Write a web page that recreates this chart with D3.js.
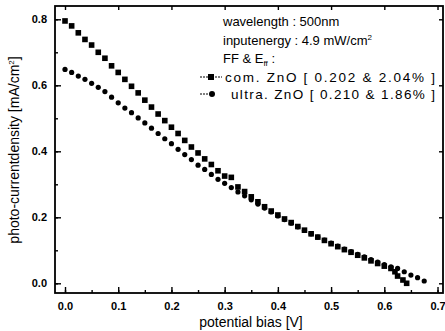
<!DOCTYPE html>
<html><head><meta charset="utf-8">
<script src="https://cdn.jsdelivr.net/npm/d3@7"></script>
<style>
html,body{margin:0;padding:0;background:#fff;}
svg{display:block;font-family:"Liberation Sans",Arial,Helvetica,sans-serif;}
</style></head>
<body>
<script>
// ---- data ----
const comX = [0,0.0125,0.025,0.0375,0.05,0.0625,0.075,0.0875,0.1,0.1125,0.125,0.1375,0.15,0.1625,0.175,0.1875,0.2,0.2125,0.225,0.2375,0.25,0.2625,0.275,0.2875,0.3,0.3125,0.325,0.3375,0.35,0.3625,0.375,0.3875,0.4,0.4125,0.425,0.4375,0.45,0.4625,0.475,0.4875,0.5,0.5125,0.525,0.5375,0.55,0.5625,0.575,0.5875,0.6,0.6125,0.62,0.625,0.635,0.642];
const comY = [0.795,0.780,0.759,0.739,0.722,0.700,0.682,0.659,0.639,0.618,0.597,0.577,0.555,0.534,0.513,0.493,0.473,0.454,0.433,0.413,0.395,0.377,0.360,0.341,0.325,0.321,0.292,0.278,0.262,0.247,0.232,0.219,0.207,0.195,0.184,0.172,0.161,0.150,0.140,0.130,0.120,0.111,0.102,0.094,0.085,0.077,0.068,0.060,0.052,0.045,0.035,0.022,0.010,0.000];
const ultraX = [0,0.0125,0.025,0.0375,0.05,0.0625,0.075,0.0875,0.1,0.1125,0.125,0.1375,0.15,0.1625,0.175,0.1875,0.2,0.2125,0.225,0.2375,0.25,0.2625,0.275,0.2875,0.3,0.3125,0.325,0.3375,0.35,0.3625,0.375,0.3875,0.4,0.4125,0.425,0.4375,0.45,0.4625,0.475,0.4875,0.5,0.5125,0.525,0.5375,0.55,0.5625,0.575,0.5875,0.6,0.6125,0.625,0.6375,0.65,0.6625,0.675];
const ultraY = [0.648,0.639,0.628,0.618,0.606,0.594,0.581,0.564,0.547,0.531,0.517,0.501,0.486,0.470,0.454,0.438,0.423,0.406,0.390,0.375,0.358,0.345,0.330,0.315,0.303,0.290,0.277,0.265,0.253,0.240,0.228,0.216,0.204,0.193,0.182,0.171,0.160,0.150,0.140,0.131,0.122,0.113,0.104,0.096,0.088,0.080,0.072,0.064,0.057,0.050,0.045,0.035,0.025,0.017,0.007];
const xTicks = [0,0.1,0.2,0.3,0.4,0.5,0.6,0.7];
const yTicks = [0,0.2,0.4,0.6,0.8];
const legendInfo = ["wavelength : 500nm"];
const seriesNames = ["com. ZnO [ 0.202 & 2.04% ]","ultra. ZnO [ 0.210 & 1.86% ]"];
const xTitle = "potential bias [V]";

const W = 445, H = 331;
const L = 55, R = 443, T = 6, B = 293;
const svg = d3.select("body").append("svg").attr("width", W).attr("height", H);

const x = d3.scaleLinear().domain([-0.0188, 0.7103]).range([L, R]);
const y = d3.scaleLinear().domain([-0.0294, 0.8403]).range([B, T]);

// frame
svg.append("rect").attr("x", L).attr("y", T).attr("width", R - L).attr("height", B - T)
  .attr("fill", "none").attr("stroke", "#000").attr("stroke-width", 1.8);

// axes with inward ticks
const xMinor = d3.range(0, 0.71, 0.05);
const yMinor = d3.range(0, 0.81, 0.1);
const gx = svg.append("g").attr("transform", `translate(0,${B})`)
  .call(d3.axisTop(x).tickValues(xMinor).tickSize(3).tickFormat(""));
const gx2 = svg.append("g").attr("transform", `translate(0,${B})`)
  .call(d3.axisTop(x).tickValues(xTicks).tickSize(6).tickFormat(""));
const gxl = svg.append("g").attr("transform", `translate(0,${B})`)
  .call(d3.axisBottom(x).tickValues(xTicks).tickSize(0).tickPadding(9).tickFormat(d3.format(".1f")));
const gxt = svg.append("g").attr("transform", `translate(0,${T})`)
  .call(d3.axisBottom(x).tickValues(xTicks).tickSize(4).tickFormat(""));
const gy = svg.append("g").attr("transform", `translate(${L},0)`)
  .call(d3.axisRight(y).tickValues(yMinor).tickSize(3).tickFormat(""));
const gy2 = svg.append("g").attr("transform", `translate(${L},0)`)
  .call(d3.axisRight(y).tickValues(yTicks).tickSize(6).tickFormat(""));
const gyl = svg.append("g").attr("transform", `translate(${L},0)`)
  .call(d3.axisLeft(y).tickValues(yTicks).tickSize(0).tickPadding(8).tickFormat(d3.format(".1f")));
const gyr = svg.append("g").attr("transform", `translate(${R},0)`)
  .call(d3.axisLeft(y).tickValues(yTicks).tickSize(4).tickFormat(""));
[gx,gx2,gxl,gxt,gy,gy2,gyl,gyr].forEach(g => {
  g.select(".domain").remove();
  g.selectAll("line").attr("stroke", "#000").attr("stroke-width", 1.4);
  g.selectAll("text").attr("fill", "#000").attr("font-size", 11).attr("font-weight", "bold")
   .attr("font-family", '"Liberation Sans",Arial,sans-serif');
});

// titles
svg.append("text").attr("x", 251).attr("y", 327).attr("text-anchor", "middle")
  .attr("font-size", 14).text(xTitle);
const yt = svg.append("text").attr("transform", `translate(19,150) rotate(-90)`)
  .attr("text-anchor", "middle").attr("font-size", 14);
yt.append("tspan").text("photo-currentdensity [mA/cm");
yt.append("tspan").attr("font-size", 8).attr("dy", -5).text("2");
yt.append("tspan").attr("dy", 5).text("]");

// data points
svg.append("g").selectAll("rect").data(comX.map((v, i) => [v, comY[i]])).join("rect")
  .attr("x", d => x(d[0]) - 2.8).attr("y", d => y(d[1]) - 2.8)
  .attr("width", 5.6).attr("height", 5.6).attr("fill", "#000");
svg.append("g").selectAll("circle").data(ultraX.map((v, i) => [v, ultraY[i]])).join("circle")
  .attr("cx", d => x(d[0])).attr("cy", d => y(d[1])).attr("r", 2.6).attr("fill", "#000");

// legend
const lx = 223;
const lg = svg.append("g").attr("font-size", 13).attr("fill", "#000");
lg.append("text").attr("x", lx).attr("y", 26).text(legendInfo[0]);
const t2 = lg.append("text").attr("x", lx).attr("y", 45);
t2.append("tspan").text("inputenergy : 4.9 mW/cm");
t2.append("tspan").attr("font-size", 8).attr("dy", -5).text("2");
const t3 = lg.append("text").attr("x", lx).attr("y", 63);
t3.append("tspan").text("FF & E");
t3.append("tspan").attr("font-size", 8).attr("dy", 3).text("ff");
t3.append("tspan").attr("dy", -3).text(" :");
// series rows
lg.append("line").attr("x1", 200).attr("x2", 222).attr("y1", 77).attr("y2", 77).attr("stroke", "#000").attr("stroke-width", 1).attr("stroke-dasharray", "2,1");
lg.append("rect").attr("x", 208).attr("y", 74).attr("width", 6).attr("height", 6).attr("fill", "#000");
lg.append("text").attr("x", 225).attr("y", 82).attr("font-size", 13.5)
  .attr("textLength", 210).attr("lengthAdjust", "spacing").text(seriesNames[0]);
lg.append("line").attr("x1", 200).attr("x2", 208).attr("y1", 94).attr("y2", 94).attr("stroke", "#000").attr("stroke-width", 1).attr("stroke-dasharray", "2,1");
lg.append("circle").attr("cx", 212).attr("cy", 94).attr("r", 3).attr("fill", "#000");
lg.append("text").attr("x", 231).attr("y", 99).attr("font-size", 13.5)
  .attr("textLength", 204).attr("lengthAdjust", "spacing").text(seriesNames[1]);
</script>
</body></html>
